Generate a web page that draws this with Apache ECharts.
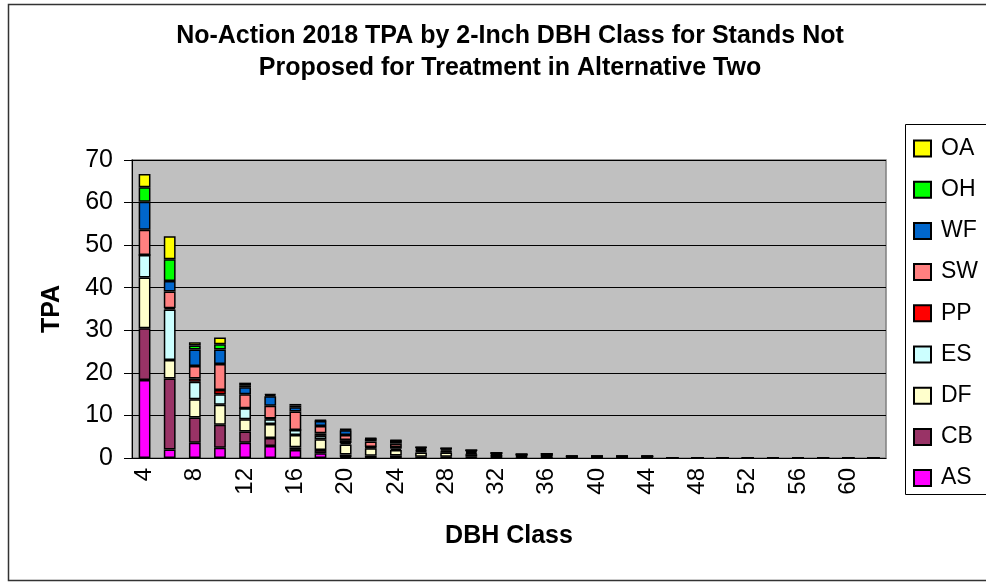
<!DOCTYPE html>
<html>
<head>
<meta charset="utf-8">
<script src="https://cdn.jsdelivr.net/npm/echarts@6/dist/echarts.min.js"></script>
<style>
  html, body { margin: 0; padding: 0; background: #fff; }
  #chart { width: 986px; height: 582px; }
</style>
</head>
<body>
<div id="chart"></div>
<script>
// DBH classes 4..62
var dbhClasses = [];
for (var d = 4; d <= 62; d += 2) dbhClasses.push(String(d));

var AS = [18.3, 2.0, 3.6, 2.4, 3.6, 2.8, 1.9, 1.1, 0.2, 0.1, 0.1, 0, 0, 0, 0, 0, 0, 0, 0, 0, 0, 0, 0, 0, 0, 0, 0, 0, 0, 0];
var CB = [12.2, 16.7, 5.9, 5.4, 2.6, 1.9, 0.6, 0.8, 0.6, 0.4, 0.5, 0.3, 0.3, 0.3, 0.2, 0.3, 0.1, 0.2, 0.2, 0.2, 0.2, 0, 0, 0, 0, 0, 0, 0, 0, 0];
var DF = [11.9, 4.3, 4.3, 4.7, 2.9, 3.3, 2.9, 2.5, 2.4, 1.8, 1.3, 1.0, 1.0, 0.6, 0.5, 0.2, 0.6, 0.1, 0.1, 0.1, 0.1, 0, 0, 0, 0, 0, 0, 0, 0, 0];
var ES = [5.3, 11.9, 4.1, 2.5, 2.6, 1.1, 1.2, 0.8, 0.3, 0.2, 0.3, 0.3, 0.2, 0.2, 0.1, 0, 0, 0, 0, 0, 0, 0, 0, 0, 0, 0, 0, 0, 0, 0];
var PP = [0, 0.3, 0.8, 1.0, 0, 0.2, 0, 0.6, 0.7, 0.1, 0.4, 0.2, 0.2, 0.3, 0.2, 0.2, 0.1, 0.1, 0.1, 0.1, 0.1, 0, 0, 0, 0, 0, 0, 0, 0, 0];
var SW = [5.9, 3.9, 2.9, 6.1, 3.3, 3.0, 4.3, 1.7, 1.2, 1.3, 0.8, 0.3, 0.3, 0.2, 0.1, 0.1, 0.1, 0, 0, 0, 0, 0, 0, 0, 0, 0, 0, 0, 0, 0];
var WF = [6.6, 2.5, 3.9, 3.4, 1.6, 2.2, 1.0, 1.2, 1.1, 0.6, 0.6, 0.3, 0.2, 0.2, 0.1, 0.1, 0.1, 0, 0, 0, 0, 0, 0, 0, 0, 0, 0, 0, 0, 0];
var OH = [3.4, 5.1, 0.9, 1.2, 0.5, 0.3, 0.4, 0.1, 0.2, 0.1, 0.1, 0.1, 0.05, 0, 0, 0, 0, 0, 0, 0, 0, 0, 0, 0, 0, 0, 0, 0, 0, 0];
var OA = [3.1, 5.4, 0.8, 1.6, 0.6, 0.2, 0.4, 0.1, 0.1, 0.1, 0.1, 0.1, 0.05, 0, 0, 0, 0, 0, 0, 0, 0, 0, 0, 0, 0, 0, 0, 0, 0, 0];

var speciesNames = ['AS', 'CB', 'DF', 'ES', 'PP', 'SW', 'WF', 'OH', 'OA'];
var speciesData = [AS, CB, DF, ES, PP, SW, WF, OH, OA];
var speciesColors = ['#ff00ff', '#993366', '#ffffcc', '#ccffff', '#ff0000', '#ff8080', '#0066cc', '#00ff00', '#ffff00'];

var font = 'Liberation Sans, Arial, sans-serif';

var series = [];
for (var i = 0; i < speciesNames.length; i++) {
    series.push({
        name: speciesNames[i],
        type: 'bar',
        stack: 'tpa',
        barWidth: '47%',
        itemStyle: {
            color: speciesColors[i],
            borderColor: '#000',
            borderWidth: 1.5
        },
        emphasis: { disabled: true },
        data: speciesData[i]
    });
}

var chart = echarts.init(document.getElementById('chart'));
var option = {
    animation: false,
    textStyle: { fontFamily: font },
    title: {
        text: 'No-Action 2018 TPA by 2-Inch DBH Class for Stands Not\nProposed for Treatment in Alternative Two',
        left: 510,
        textAlign: 'center',
        top: 20,
        padding: 0,
        textStyle: {
            fontFamily: font,
            fontSize: 25,
            fontWeight: 'bold',
            color: '#000',
            lineHeight: 32
        }
    },
    legend: {
        data: speciesNames.slice().reverse(),
        orient: 'vertical',
        left: 913,
        top: 137,
        padding: 0,
        icon: 'rect',
        itemWidth: 17,
        itemHeight: 16,
        itemGap: 18.2,
        textStyle: {
            fontFamily: font,
            fontSize: 23,
            color: '#000',
            lineHeight: 22,
            padding: [0, 0, 0, 5]
        }
    },
    grid: {
        left: 132,
        right: 100,
        top: 160,
        bottom: 124
    },
    xAxis: {
        type: 'category',
        data: dbhClasses,
        name: 'DBH Class',
        nameLocation: 'middle',
        nameGap: 66,
        nameTextStyle: { fontFamily: font, fontSize: 25, fontWeight: 'bold', color: '#000' },
        axisLine: { lineStyle: { color: '#000', width: 1 } },
        axisTick: { interval: 0, length: 8, lineStyle: { color: '#000' } },
        axisLabel: {
            interval: 1,
            rotate: 90,
            margin: 10,
            fontFamily: font,
            fontSize: 24,
            color: '#000'
        }
    },
    yAxis: {
        type: 'value',
        min: 0,
        max: 70,
        interval: 10,
        name: 'TPA',
        nameLocation: 'middle',
        nameGap: 67,
        nameTextStyle: { fontFamily: font, fontSize: 25, fontWeight: 'bold', color: '#000' },
        axisLine: { show: true, lineStyle: { color: '#000', width: 1 } },
        axisTick: { show: true, length: 8, lineStyle: { color: '#000' } },
        axisLabel: { fontFamily: font, fontSize: 25, color: '#000', margin: 19 },
        splitLine: { lineStyle: { color: '#000', width: 1 } }
    },
    graphic: [
        {
            type: 'rect',
            z: -10,
            shape: { x: 8.5, y: 4.5, width: 1000, height: 576 },
            style: { fill: '#fff', stroke: '#333', lineWidth: 1.5 }
        },
        {
            type: 'rect',
            z: -5,
            shape: { x: 132, y: 160, width: 754, height: 298 },
            style: { fill: '#c0c0c0', stroke: '#808080', lineWidth: 1.5 }
        },
        {
            type: 'rect',
            z: -4,
            shape: { x: 905.5, y: 124.5, width: 100, height: 370 },
            style: { fill: '#fff', stroke: '#000', lineWidth: 1 }
        }
    ],
    series: series
};
chart.setOption(option);
</script>
</body>
</html>
